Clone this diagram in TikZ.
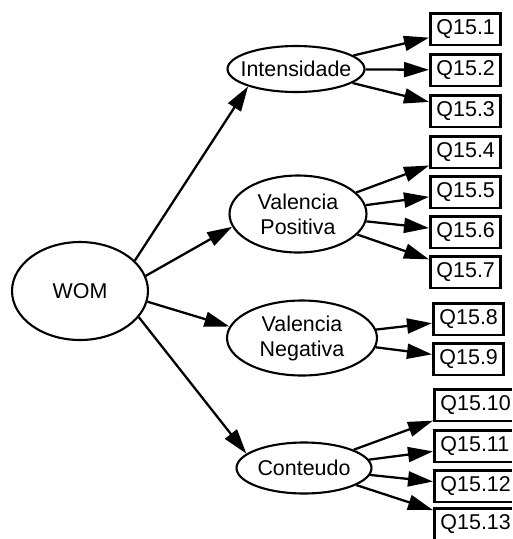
\documentclass[tikz,border=0pt]{standalone}
\usepackage{fontspec}
\setmainfont{Liberation Sans}
\usetikzlibrary{arrows.meta, shapes.geometric}

\begin{document}
\begin{tikzpicture}[
  x=0.02cm, y=-0.02cm,
  factor/.style={ellipse, draw, line width=1.2pt, inner xsep=-0.3cm, inner ysep=-0.2cm, align=center, font=\fontsize{12.2}{14.2}\selectfont},
  item/.style={rectangle, draw, line width=1.7pt, anchor=west, inner xsep=0.12cm, inner ysep=0pt, minimum height=0.64cm, font=\fontsize{12.2}{14.2}\selectfont},
  load/.style={-{Triangle[length=5mm, width=3mm]}, line width=1.3pt}
]
  \useasboundingbox (0,0) rectangle (512,539);
  \clip (0,0) rectangle (512,539);

  \node[factor, minimum width=2.72cm, minimum height=1.96cm] (WOM) at (80,291)  {WOM};
  \node[factor, minimum width=2.74cm, minimum height=0.92cm] (INT) at (296,69)  {Intensidade};
  \node[factor, minimum width=2.74cm, minimum height=1.54cm] (VP)  at (298,214) {Valencia\\Positiva};
  \node[factor, minimum width=3.00cm, minimum height=1.50cm] (VN)  at (302,338) {Valencia\\Negativa};
  \node[factor, minimum width=2.70cm, minimum height=1.02cm] (CON) at (304,468) {Conteudo};

  \node[item] (Q1)  at (429,29)  {Q15.1};
  \node[item] (Q2)  at (429,70)  {Q15.2};
  \node[item] (Q3)  at (429,111) {Q15.3};
  \node[item] (Q4)  at (429,152) {Q15.4};
  \node[item] (Q5)  at (429,192) {Q15.5};
  \node[item] (Q6)  at (429,232) {Q15.6};
  \node[item] (Q7)  at (429,272) {Q15.7};
  \node[item] (Q8)  at (432,319) {Q15.8};
  \node[item] (Q9)  at (432,359) {Q15.9};
  \node[item] (Q10) at (433,405) {Q15.10};
  \node[item] (Q11) at (433,446) {Q15.11};
  \node[item] (Q12) at (433,486) {Q15.12};
  \node[item] (Q13) at (433,524) {Q15.13};

  \draw[load] (WOM.29) -- (INT.200);
  \draw[load] (WOM.13) -- (VP.191);
  \draw[load] (WOM.-9) -- (VN.171);
  \draw[load] (WOM.-24) -- (CON.166);

  \draw[load] (INT) -- (Q1);
  \draw[load] (INT) -- (Q2);
  \draw[load] (INT) -- (Q3);
  \draw[load] (VP) -- (Q4);
  \draw[load] (VP) -- (Q5);
  \draw[load] (VP) -- (Q6);
  \draw[load] (VP) -- (Q7);
  \draw[load] (VN) -- (Q8);
  \draw[load] (VN) -- (Q9);
  \draw[load] (CON) -- (Q10);
  \draw[load] (CON) -- (Q11);
  \draw[load] (CON) -- (Q12);
  \draw[load] (CON) -- (Q13);
\end{tikzpicture}
\end{document}
